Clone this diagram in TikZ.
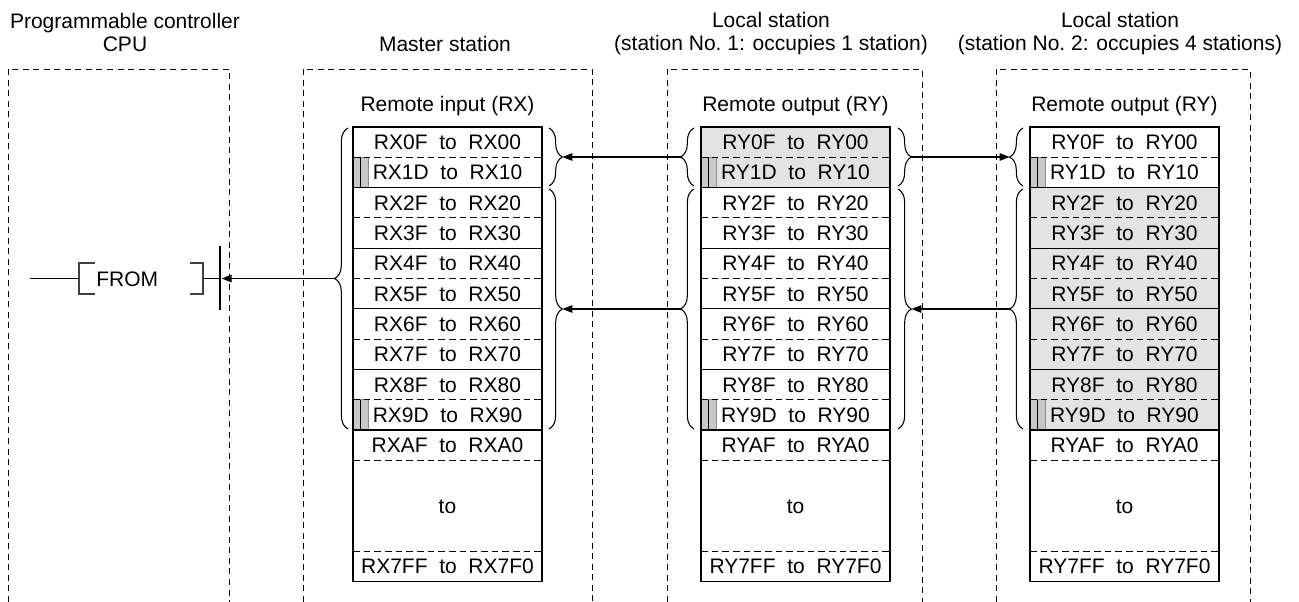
\documentclass[tikz,border=0pt]{standalone}
\usepackage{fontspec}
\setmainfont{Liberation Sans}
\usetikzlibrary{arrows.meta,decorations.pathreplacing}
\definecolor{rowgray}{HTML}{E3E3E3}
\definecolor{stripgray}{HTML}{C8C8C8}

\tikzset{
  station/.style={line width=0.6pt,dash pattern=on 4.5pt off 3.4pt},
  txt/.style={inner sep=0pt,text height=11.3pt,text depth=0pt},
  cell/.style={txt,minimum width=141.75pt,minimum height=22.7pt},
  sep/.style={line width=0.6pt,dash pattern=on 5pt off 3pt},
  rule/.style={line width=1pt},
  curly/.style={decorate,decoration={brace,amplitude=10pt},line width=0.8pt},
  link/.style={line width=1.2pt,-{Triangle[length=7.5pt,width=5.5pt]}},
  bracket/.style={black!75,line width=0.8pt}
}

\begin{document}
\begin{tikzpicture}[x=0.75pt,y=-0.75pt,font=\fontsize{15.75}{17.25}\selectfont]
  \useasboundingbox (0,0) rectangle (1299,602);

  \foreach \l/\r in {8/229,303/592,667/922,996/1250}
    \draw[station] (\l,602) -- (\l,69) -- (\r,69) -- (\r,602);

  \node[align=center,anchor=base] (cpuT) at (125,52) {Programmable controller\\CPU};
  \node[anchor=base] (mT) at (445,52) {Master station};
  \node[align=center,anchor=base] (aT) at (771,51) {Local station\\(station No.\ 1: occupies 1 station)};
  \node[align=center,anchor=base] (bT) at (1120,51) {Local station\\(station No.\ 2: occupies 4 stations)};
  \node[anchor=base] (mH) at (447.5,112) {Remote input (RX)};
  \node[anchor=base] (aH) at (795.5,112) {Remote output (RY)};
  \node[anchor=base] (bH) at (1124.5,112) {Remote output (RY)};

  \fill[rowgray] (701,127) rectangle (890,187.6);
  \fill[rowgray] (1030,187.6) rectangle (1219,430);

  \foreach \X/\P/\n in {353/RX/m,701/RY/a,1030/RY/b} {
    \foreach \hi/\lo [count=\i] in {0F/00,1D/10,2F/20,3F/30,4F/40,5F/50,6F/60,7F/70,8F/80,9D/90,AF/A0}
      \node[cell] (\n\i) at (\X+94.5,127+\i*30.3-15.15) {\P\hi\ \ to\ \ \P\lo};
    \node[cell] (\n-to) at (\X+94.5,505.8) {to};
    \node[cell] (\n-end) at (\X+94.5,566.4) {\P7FF\ \ to\ \ \P7F0};
    \foreach \i in {2,10} {
      \filldraw[fill=stripgray,draw=black!45,line width=0.5pt] (\X,127+\i*30.3-30.3) rectangle (\X+15,127+\i*30.3);
      \draw[line width=0.6pt] (\X+7.5,127+\i*30.3-30.3) -- (\X+7.5,127+\i*30.3);
    }
    \foreach \i in {1,3,5,7,9,11,14}
      \draw[sep] (\X,127+\i*30.3) -- (\X+189,127+\i*30.3);
    \foreach \i in {2,4,6,8,10}
      \draw[rule] (\X,127+\i*30.3) -- (\X+189,127+\i*30.3);
    \draw[rule] (\X,127) rectangle (\X+189,581.5);
  }

  % braces round the groups of rows
  \draw[curly] (348,429) -- (348,128);
  \draw[curly] (549,128) -- (549,186);
  \draw[curly] (549,189) -- (549,429);
  \draw[curly] (694,186) -- (694,128);
  \draw[curly] (694,429) -- (694,189);
  \draw[curly] (898,128) -- (898,186);
  \draw[curly] (898,189) -- (898,429);
  \draw[curly] (1023,186) -- (1023,128);
  \draw[curly] (1023,429) -- (1023,189);

  \coordinate (mIn) at (334.7,278.5);
  \coordinate (mOut1) at (562.3,157);
  \coordinate (mOut2) at (562.3,309);
  \coordinate (aIn1) at (680.7,157);
  \coordinate (aIn2) at (680.7,309);
  \coordinate (aOut1) at (911.3,157);
  \coordinate (aOut2) at (911.3,309);
  \coordinate (bIn1) at (1009.7,157);
  \coordinate (bIn2) at (1009.7,309);
  \coordinate (cpuIn) at (221.5,278.5);

  % FROM instruction
  \node[txt,anchor=west] (from) at (96,278.5) {FROM};
  \draw[line width=1.1pt] (30,278.5) -- (79,278.5);
  \draw[bracket] (95,263) -- (79,263) -- (79,294) -- (95,294);
  \draw[bracket] (190,263) -- (203,263) -- (203,294) -- (190,294);
  \draw[line width=1.1pt] (203,278.5) -- (220,278.5);
  \draw[line width=2.2pt] (220,246) -- (220,310);

  \draw[link] (mIn) -- (cpuIn);
  \draw[link] (aIn1) -- (mOut1);
  \draw[link] (aIn2) -- (mOut2);
  \draw[link] (aOut1) -- (bIn1);
  \draw[link] (bIn2) -- (aOut2);
\end{tikzpicture}
\end{document}
